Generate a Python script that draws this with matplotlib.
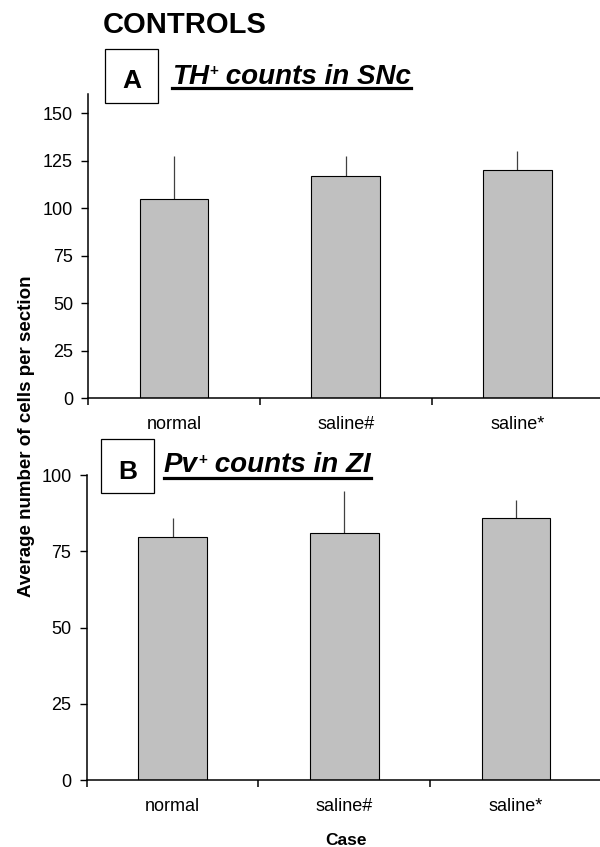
import matplotlib
matplotlib.use("Agg")
import matplotlib.pyplot as plt
from matplotlib.patches import Rectangle
from matplotlib.lines import Line2D

plt.rcParams["font.family"] = ["Liberation Sans", "DejaVu Sans"]

cases = ["normal", "saline#", "saline*"]
th_mean = [104.7, 117.2, 120.2]
th_sd = [23.0, 10.5, 10.0]
pv_mean = [79.8, 80.9, 85.8]
pv_sd = [6.2, 13.9, 6.0]
th_ticks = [0, 25, 50, 75, 100, 125, 150]
pv_ticks = [0, 25, 50, 75, 100]

W, H = 600, 847
fig = plt.figure(figsize=(W / 100, H / 100), dpi=100)


def fx(x):
    return x / W


def fy(y):
    return 1 - y / H


def bar_panel(left, top, bottom, means, sds, ymax, yticks):
    rect = [fx(left), fy(bottom), 515 / W, (bottom - top) / H]
    ax = fig.add_axes(rect)
    x = list(range(len(cases)))
    ax.bar(x, means, width=0.4, color="#c0c0c0", edgecolor="black",
           linewidth=0.8, zorder=2)
    ax.errorbar(x, means, yerr=[[0] * len(sds), sds], fmt="none",
                ecolor="#404040", elinewidth=0.9, capsize=0, zorder=1)
    ax.set_xlim(-0.5, 2.5)
    ax.set_ylim(0, ymax)
    ax.set_xticks(x)
    ax.set_xticklabels(cases)
    ax.set_xticks([-0.5, 0.5, 1.5, 2.5], minor=True)
    ax.tick_params(axis="x", which="major", length=0, pad=13, labelsize=13)
    ax.tick_params(axis="x", which="minor", length=5, width=1.1, direction="out")
    ax.set_yticks(yticks)
    ax.tick_params(axis="y", length=5, width=1, pad=6, labelsize=13)
    for s in ["top", "right"]:
        ax.spines[s].set_visible(False)
    for s in ["left", "bottom"]:
        ax.spines[s].set_linewidth(1.1)
    return ax


axA = bar_panel(88.3, 94.3, 398.3, th_mean, th_sd, 160, th_ticks)
axB = bar_panel(86.7, 475, 780, pv_mean, pv_sd, 100, pv_ticks)

renderer = fig.canvas.get_renderer()


def boxed_letter(x0, y0, x1, y1, letter, baseline):
    fig.patches.append(Rectangle((fx(x0), fy(y1)), fx(x1) - fx(x0), (y1 - y0) / H,
                                 transform=fig.transFigure, fill=False,
                                 edgecolor="black", linewidth=0.9))
    fig.text(fx((x0 + x1) / 2), fy(baseline), letter, ha="center", va="baseline",
             fontsize=19, fontweight="bold")


def underlined(x, baseline, main, rest, uline_y):
    kw = dict(fontsize=20, fontweight="bold", fontstyle="italic", va="baseline")
    t1 = fig.text(fx(x), fy(baseline), main, **kw)
    b1 = t1.get_window_extent(renderer)
    t2 = fig.text(b1.x1 / W + 0.001, fy(baseline - 8), "+", fontsize=11,
                  fontweight="bold", va="baseline")
    b2 = t2.get_window_extent(renderer)
    t3 = fig.text(b2.x1 / W, fy(baseline), rest, **kw)
    b3 = t3.get_window_extent(renderer)
    fig.lines.append(Line2D([fx(x), b3.x1 / W], [fy(uline_y), fy(uline_y)],
                            transform=fig.transFigure, color="black", linewidth=2.3))


fig.text(fx(103), fy(33), "CONTROLS", fontsize=21, fontweight="bold", va="baseline")

boxed_letter(105, 49, 158, 103, "A", 88.3)
underlined(172, 83.5, "TH", " counts in SNc", 88.5)

boxed_letter(100.7, 439, 154, 493, "B", 479)
underlined(164, 472, "Pv", " counts in ZI", 478)

fig.text(fx(27), fy(436), "Average number of cells per section", rotation=90,
         ha="center", va="center", fontsize=13.5, fontweight="bold")
fig.text(fx(345.5), fy(845), "Case", ha="center", va="baseline",
         fontsize=12.5, fontweight="bold")

fig.savefig("out.png", dpi=100)
